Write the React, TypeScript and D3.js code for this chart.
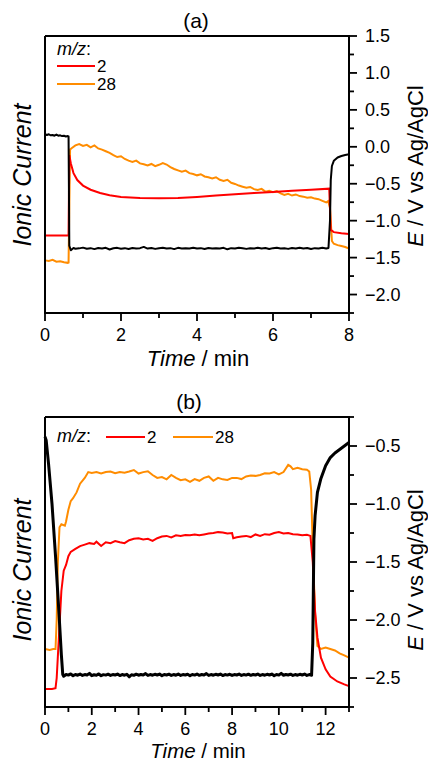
import React from "react";
import * as d3 from "d3";

type Pt = [number, number];

// ---------- panel (a) ----------
// electrode potential, V vs Ag/AgCl (right axis)
const potA: Pt[] = [
  [0, 0.17], [0.05, 0.16], [0.1, 0.17], [0.15, 0.155], [0.2, 0.16], [0.25, 0.15], [0.3, 0.165],
  [0.35, 0.15], [0.4, 0.155], [0.45, 0.145], [0.5, 0.15], [0.55, 0.14], [0.6, 0.145], [0.62, 0.14],
  [0.64, -1.34], [0.68, -1.4], [0.75, -1.37], [0.8, -1.38], [0.9, -1.375], [1.0, -1.365], [1.1, -1.38],
  [1.2, -1.372], [1.3, -1.385], [1.4, -1.37], [1.5, -1.378], [1.6, -1.368], [1.7, -1.39], [1.8, -1.374],
  [1.9, -1.368], [2.0, -1.38], [2.1, -1.372], [2.2, -1.383], [2.3, -1.37], [2.4, -1.376], [2.5, -1.372],
  [2.6, -1.355], [2.7, -1.378], [2.8, -1.37], [2.9, -1.382], [3.0, -1.372], [3.1, -1.368], [3.2, -1.378],
  [3.3, -1.372], [3.4, -1.385], [3.5, -1.368], [3.6, -1.378], [3.7, -1.372], [3.8, -1.376], [3.9, -1.366],
  [4.0, -1.378], [4.1, -1.372], [4.2, -1.384], [4.3, -1.37], [4.4, -1.378], [4.5, -1.373], [4.6, -1.376],
  [4.7, -1.368], [4.8, -1.388], [4.9, -1.372], [5.0, -1.377], [5.1, -1.368], [5.2, -1.373], [5.3, -1.382],
  [5.4, -1.372], [5.5, -1.378], [5.6, -1.367], [5.7, -1.376], [5.8, -1.371], [5.9, -1.383], [6.0, -1.372],
  [6.1, -1.366], [6.2, -1.377], [6.3, -1.372], [6.4, -1.382], [6.5, -1.371], [6.6, -1.377], [6.7, -1.366],
  [6.8, -1.376], [6.9, -1.371], [7.0, -1.384], [7.1, -1.372], [7.2, -1.377], [7.3, -1.368], [7.4, -1.378],
  [7.46, -1.37], [7.5, -1.0], [7.52, -0.45], [7.55, -0.26], [7.6, -0.19], [7.7, -0.145], [7.8, -0.125],
  [7.9, -0.11], [8.0, -0.1],
];
// ionic current, arbitrary units (0 = bottom of frame, 1 = top)
const mz2A: Pt[] = [
  [0, 0.28], [0.3, 0.28], [0.62, 0.28], [0.64, 0.57], [0.68, 0.54], [0.75, 0.505], [0.85, 0.48],
  [1.0, 0.46], [1.2, 0.445], [1.45, 0.433], [1.7, 0.425], [2.0, 0.419], [2.5, 0.415], [3.0, 0.414],
  [3.5, 0.415], [4.0, 0.419], [4.5, 0.424], [5.0, 0.429], [5.5, 0.433], [6.0, 0.437], [6.5, 0.441],
  [7.0, 0.445], [7.48, 0.449], [7.52, 0.3], [7.6, 0.292], [7.8, 0.288], [8.0, 0.285],
];
const mz28A: Pt[] = [
  [0, 0.19], [0.1, 0.188], [0.2, 0.192], [0.3, 0.185], [0.4, 0.187], [0.5, 0.183], [0.6, 0.181],
  [0.62, 0.182], [0.66, 0.59], [0.7, 0.595], [0.8, 0.605], [0.9, 0.61], [1.0, 0.603], [1.1, 0.607],
  [1.2, 0.598], [1.3, 0.605], [1.4, 0.594], [1.5, 0.59], [1.6, 0.584], [1.7, 0.578], [1.8, 0.57],
  [1.9, 0.563], [2.0, 0.566], [2.1, 0.556], [2.2, 0.55], [2.3, 0.545], [2.4, 0.55], [2.5, 0.54],
  [2.6, 0.537], [2.7, 0.533], [2.8, 0.538], [2.9, 0.53], [3.0, 0.535], [3.1, 0.541], [3.2, 0.536],
  [3.3, 0.527], [3.4, 0.52], [3.5, 0.515], [3.6, 0.51], [3.7, 0.514], [3.8, 0.505], [3.9, 0.502],
  [4.0, 0.497], [4.1, 0.501], [4.2, 0.493], [4.3, 0.49], [4.4, 0.486], [4.5, 0.49], [4.6, 0.481],
  [4.7, 0.477], [4.8, 0.481], [4.9, 0.47], [5.0, 0.466], [5.1, 0.46], [5.2, 0.456], [5.3, 0.452],
  [5.4, 0.455], [5.5, 0.447], [5.6, 0.444], [5.7, 0.448], [5.8, 0.438], [5.9, 0.441], [6.0, 0.436],
  [6.1, 0.44], [6.2, 0.432], [6.3, 0.426], [6.4, 0.43], [6.5, 0.424], [6.6, 0.428], [6.7, 0.422],
  [6.8, 0.42], [6.9, 0.416], [7.0, 0.418], [7.1, 0.413], [7.2, 0.411], [7.3, 0.405], [7.4, 0.399],
  [7.45, 0.404], [7.5, 0.38], [7.55, 0.26], [7.6, 0.25], [7.7, 0.245], [7.8, 0.242], [7.9, 0.238],
  [8.0, 0.233],
];

// ---------- panel (b) ----------
const potB: Pt[] = [
  [0, -0.42], [0.05, -0.45], [0.15, -0.65], [0.3, -1.0], [0.45, -1.45], [0.6, -1.95], [0.7, -2.3],
  [0.76, -2.47], [0.8, -2.485], [0.9, -2.47], [1.0, -2.475], [1.1, -2.465], [1.2, -2.48], [1.3, -2.47],
  [1.4, -2.476], [1.5, -2.466], [1.6, -2.478], [1.7, -2.47], [1.8, -2.474], [1.9, -2.46], [2.0, -2.48],
  [2.1, -2.472], [2.2, -2.476], [2.3, -2.465], [2.4, -2.48], [2.5, -2.471], [2.6, -2.475], [2.7, -2.467],
  [2.8, -2.478], [2.9, -2.47], [3.0, -2.474], [3.1, -2.466], [3.2, -2.479], [3.3, -2.47], [3.4, -2.476],
  [3.5, -2.468], [3.6, -2.49], [3.7, -2.472], [3.8, -2.477], [3.9, -2.467], [4.0, -2.476], [4.1, -2.47],
  [4.2, -2.474], [4.3, -2.462], [4.4, -2.478], [4.5, -2.47], [4.6, -2.476], [4.7, -2.468], [4.8, -2.474],
  [4.9, -2.466], [5.0, -2.48], [5.1, -2.47], [5.2, -2.474], [5.3, -2.467], [5.4, -2.478], [5.5, -2.47],
  [5.6, -2.476], [5.7, -2.466], [5.8, -2.478], [5.9, -2.47], [6.0, -2.474], [6.1, -2.468], [6.2, -2.48],
  [6.3, -2.47], [6.4, -2.475], [6.5, -2.466], [6.6, -2.477], [6.7, -2.47], [6.8, -2.474], [6.9, -2.462],
  [7.0, -2.478], [7.1, -2.47], [7.2, -2.476], [7.3, -2.468], [7.4, -2.474], [7.5, -2.466], [7.6, -2.479],
  [7.7, -2.47], [7.8, -2.475], [7.9, -2.468], [8.0, -2.478], [8.1, -2.47], [8.2, -2.474], [8.3, -2.466],
  [8.4, -2.478], [8.5, -2.47], [8.6, -2.475], [8.7, -2.467], [8.8, -2.477], [8.9, -2.47], [9.0, -2.474],
  [9.1, -2.466], [9.2, -2.478], [9.3, -2.47], [9.4, -2.476], [9.5, -2.468], [9.6, -2.474], [9.7, -2.466],
  [9.8, -2.48], [9.9, -2.47], [10.0, -2.475], [10.1, -2.46], [10.2, -2.476], [10.3, -2.47], [10.4, -2.474],
  [10.5, -2.467], [10.6, -2.478], [10.7, -2.47], [10.8, -2.476], [10.9, -2.468], [11.0, -2.474],
  [11.1, -2.466], [11.2, -2.478], [11.3, -2.47], [11.4, -2.476],
  [11.45, -2.2], [11.5, -1.3], [11.55, -1.1], [11.65, -0.9], [11.8, -0.78], [12.0, -0.67],
  [12.2, -0.6], [12.4, -0.56], [12.6, -0.53], [12.8, -0.5], [13.0, -0.47],
];
const mz2B: Pt[] = [
  [0, 0.062], [0.3, 0.062], [0.45, 0.065], [0.5, 0.1], [0.6, 0.25], [0.7, 0.4], [0.8, 0.47],
  [0.9, 0.49], [1.0, 0.52], [1.1, 0.535], [1.3, 0.545], [1.5, 0.555], [1.7, 0.56], [1.9, 0.565],
  [2.1, 0.562], [2.2, 0.57], [2.4, 0.555], [2.6, 0.568], [2.8, 0.565], [3.0, 0.572], [3.2, 0.568],
  [3.4, 0.565], [3.6, 0.575], [3.8, 0.58], [4.0, 0.582], [4.2, 0.578], [4.4, 0.58], [4.6, 0.573],
  [4.8, 0.582], [5.0, 0.588], [5.2, 0.59], [5.4, 0.585], [5.6, 0.592], [5.8, 0.59], [6.0, 0.593],
  [6.2, 0.592], [6.4, 0.595], [6.6, 0.592], [6.8, 0.595], [7.0, 0.598], [7.2, 0.6], [7.4, 0.603],
  [7.6, 0.602], [7.8, 0.598], [8.0, 0.6], [8.05, 0.582], [8.2, 0.585], [8.4, 0.588], [8.6, 0.59],
  [8.8, 0.586], [9.0, 0.595], [9.2, 0.59], [9.4, 0.596], [9.6, 0.594], [9.8, 0.6], [10.0, 0.603],
  [10.2, 0.598], [10.4, 0.6], [10.6, 0.596], [10.8, 0.595], [11.0, 0.592], [11.2, 0.594],
  [11.35, 0.59], [11.45, 0.5], [11.55, 0.33], [11.65, 0.24], [11.8, 0.17], [12.0, 0.13],
  [12.2, 0.105], [12.5, 0.088], [12.8, 0.078], [13.0, 0.072],
];
const mz28B: Pt[] = [
  [0, 0.2], [0.2, 0.197], [0.35, 0.2], [0.45, 0.2], [0.5, 0.3], [0.55, 0.5], [0.62, 0.62],
  [0.7, 0.63], [0.85, 0.625], [0.9, 0.64], [1.0, 0.68], [1.1, 0.71], [1.2, 0.72], [1.35, 0.74],
  [1.5, 0.77], [1.7, 0.79], [1.85, 0.81], [2.0, 0.807], [2.2, 0.81], [2.4, 0.805], [2.6, 0.81],
  [2.8, 0.812], [3.0, 0.806], [3.2, 0.81], [3.4, 0.808], [3.6, 0.812], [3.8, 0.817], [4.0, 0.805],
  [4.2, 0.81], [4.4, 0.813], [4.6, 0.8], [4.8, 0.79], [5.0, 0.793], [5.2, 0.785], [5.4, 0.8],
  [5.6, 0.79], [5.8, 0.782], [6.0, 0.785], [6.2, 0.776], [6.4, 0.786], [6.6, 0.78], [6.8, 0.79],
  [7.0, 0.795], [7.2, 0.78], [7.4, 0.79], [7.6, 0.785], [7.8, 0.783], [8.0, 0.79], [8.2, 0.79],
  [8.4, 0.786], [8.6, 0.795], [8.8, 0.798], [9.0, 0.797], [9.2, 0.8], [9.4, 0.806], [9.6, 0.805],
  [9.8, 0.81], [10.0, 0.802], [10.2, 0.81], [10.4, 0.835], [10.5, 0.83], [10.6, 0.82],
  [10.8, 0.825], [11.0, 0.82], [11.2, 0.818], [11.3, 0.812], [11.38, 0.75], [11.45, 0.55],
  [11.55, 0.32], [11.65, 0.21], [11.8, 0.2], [12.0, 0.205], [12.2, 0.2], [12.4, 0.195],
  [12.6, 0.185], [12.8, 0.178], [13.0, 0.17],
];

// ticks
const xTicksA = [0, 2, 4, 6, 8];
const xMinorA = [1, 3, 5, 7];
const eTicksA = [1.5, 1.0, 0.5, 0.0, -0.5, -1.0, -1.5, -2.0];
const eMinorA = [1.25, 0.75, 0.25, -0.25, -0.75, -1.25, -1.75, -2.25];
const xTicksB = [0, 2, 4, 6, 8, 10, 12];
const xMinorB = [1, 3, 5, 7, 9, 11, 13];
const eTicksB = [-0.5, -1.0, -1.5, -2.0, -2.5];
const eMinorB = [-0.25, -0.75, -1.25, -1.75, -2.25, -2.75];

const RED = "#ff0000";
const ORANGE = "#ff8c00";
const FONT = "'Liberation Sans', Arial, sans-serif";

const L = 45;
const R = 349;

function Panel(props: any) {
  const {
    label, labelX, top, bottom, tMax, xTicks, xMinor, eDomain, eTicks, eMinor,
    pot, mz2, mz28, legend, potWidth, eTitleY, iTitleY, xTitleY, xTitleSize,
  } = props;
  const x = d3.scaleLinear().domain([0, tMax]).range([L, R]);
  const yE = d3.scaleLinear().domain(eDomain).range([bottom, top]);
  const yI = d3.scaleLinear().domain([0, 1]).range([bottom, top]);
  const lineE = d3.line<Pt>().x((d) => x(d[0])).y((d) => yE(d[1]));
  const lineI = d3.line<Pt>().x((d) => x(d[0])).y((d) => yI(d[1]));
  const fmt = d3.format(".1f");

  return (
    <g fontFamily={FONT} fill="#000">
      <text x={labelX} y={top - 8} fontSize={21} textAnchor="middle">{label}</text>

      <path d={lineI(mz28) || ""} fill="none" stroke={ORANGE} strokeWidth={2} />
      <path d={lineI(mz2) || ""} fill="none" stroke={RED} strokeWidth={2} />
      <path d={lineE(pot) || ""} fill="none" stroke="#000" strokeWidth={potWidth} strokeLinejoin="round" />

      {/* frame */}
      <line x1={L} x2={R} y1={top} y2={top} stroke="#000" strokeWidth={2} />
      <line x1={L} x2={L} y1={top} y2={bottom} stroke="#000" strokeWidth={2} />
      <line x1={R} x2={R} y1={top - 1} y2={bottom + 1} stroke="#000" strokeWidth={2} />
      <line x1={L - 1} x2={R + 1} y1={bottom} y2={bottom} stroke="#000" strokeWidth={2} />

      {/* bottom axis */}
      {xTicks.map((t: number) => (
        <g key={"xt" + t}>
          <line x1={x(t)} x2={x(t)} y1={bottom} y2={bottom + 8} stroke="#000" strokeWidth={1.8} />
          <text x={x(t)} y={bottom + 28} fontSize={18} textAnchor="middle">{t}</text>
        </g>
      ))}
      {xMinor.map((t: number) => (
        <line key={"xm" + t} x1={x(t)} x2={x(t)} y1={bottom} y2={bottom + 5} stroke="#000" strokeWidth={1.8} />
      ))}
      <text x={198} y={xTitleY} fontSize={xTitleSize} textAnchor="middle">
        <tspan fontStyle="italic">Time</tspan> / min
      </text>

      {/* right axis: potential */}
      {eTicks.map((v: number) => (
        <g key={"et" + v}>
          <line x1={R} x2={R + 8} y1={yE(v)} y2={yE(v)} stroke="#000" strokeWidth={1.8} />
          <text x={R + 16} y={yE(v)} dy="0.36em" fontSize={18}>{fmt(v)}</text>
        </g>
      ))}
      {eMinor.map((v: number) => (
        <line key={"em" + v} x1={R} x2={R + 5} y1={yE(v)} y2={yE(v)} stroke="#000" strokeWidth={1.8} />
      ))}
      <text transform={`translate(423,${eTitleY}) rotate(-90)`} fontSize={22} textAnchor="middle">
        <tspan fontStyle="italic">E</tspan> / V vs Ag/AgCl
      </text>

      {/* left axis title */}
      <text transform={`translate(31,${iTitleY}) rotate(-90)`} fontSize={25} textAnchor="middle" fontStyle="italic">
        Ionic Current
      </text>

      {legend === "vertical" ? (
        <g fontSize={17}>
          <text x={57} y={top + 19} fontSize={18} fontStyle="italic">m/z<tspan fontStyle="normal">:</tspan></text>
          <line x1={57} x2={95} y1={top + 30} y2={top + 30} stroke={RED} strokeWidth={2} />
          <text x={97} y={top + 36}>2</text>
          <line x1={57} x2={95} y1={top + 48} y2={top + 48} stroke={ORANGE} strokeWidth={2} />
          <text x={97} y={top + 54}>28</text>
        </g>
      ) : (
        <g fontSize={17}>
          <text x={57} y={top + 25} fontSize={18} fontStyle="italic">m/z<tspan fontStyle="normal">:</tspan></text>
          <line x1={106} x2={145} y1={top + 20} y2={top + 20} stroke={RED} strokeWidth={2} />
          <text x={147} y={top + 26}>2</text>
          <line x1={173} x2={213} y1={top + 20} y2={top + 20} stroke={ORANGE} strokeWidth={2} />
          <text x={215} y={top + 26}>28</text>
        </g>
      )}
    </g>
  );
}

export default function App() {
  return (
    <svg width={428} height={763} style={{ position: "absolute", left: 0, top: 0, background: "#fff" }}>
      <rect width={428} height={763} fill="#fff" />
      <Panel
        label="(a)" labelX={196} top={36} bottom={313} tMax={8}
        xTicks={xTicksA} xMinor={xMinorA} eDomain={[-2.25, 1.5]} eTicks={eTicksA} eMinor={eMinorA}
        pot={potA} mz2={mz2A} mz28={mz28A} legend="vertical" potWidth={2}
        eTitleY={166} iTitleY={175} xTitleY={366} xTitleSize={22}
      />
      <Panel
        label="(b)" labelX={189} top={417} bottom={707} tMax={13}
        xTicks={xTicksB} xMinor={xMinorB} eDomain={[-2.75, -0.25]} eTicks={eTicksB} eMinor={eMinorB}
        pot={potB} mz2={mz2B} mz28={mz28B} legend="horizontal" potWidth={3}
        eTitleY={570} iTitleY={570} xTitleY={758} xTitleSize={20.5}
      />
    </svg>
  );
}
